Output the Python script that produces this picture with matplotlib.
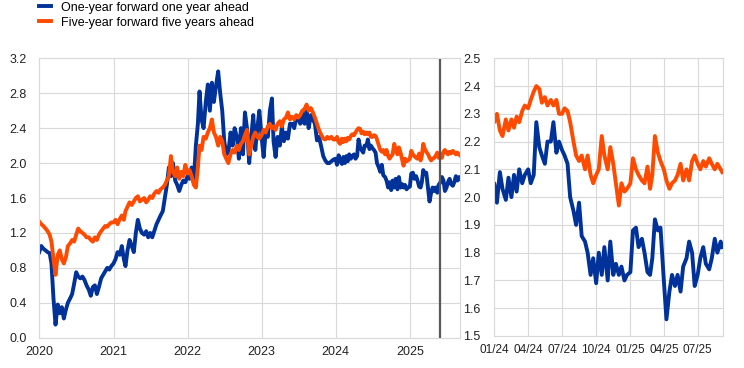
import numpy as np
import pandas as pd
import matplotlib
matplotlib.use("Agg")
import matplotlib.pyplot as plt
import matplotlib.dates as mdates

plt.rcParams['font.family'] = ['Liberation Sans', 'DejaVu Sans']
plt.rcParams['font.size'] = 9

BLUE = '#003299'
ORANGE = '#ff4b00'
GRID = '#d9d9d9'

# 2020-2023: three readings per month (days 1, 11, 21)
blue_early = [
    0.98, 1.05, 1.02,  1.00, 0.98, 0.97,  0.85, 0.45, 0.15,  0.38, 0.28, 0.35,
    0.22, 0.32, 0.40,  0.45, 0.50, 0.62,  0.75, 0.70, 0.68,  0.70, 0.66, 0.60,
    0.55, 0.48, 0.58,  0.60, 0.50, 0.58,  0.68, 0.72, 0.76,  0.80, 0.78, 0.82,
    0.85, 0.90, 0.98,  0.95, 1.05, 0.90,  0.82, 1.00, 1.12,  1.05, 0.98, 1.20,
    1.35, 1.25, 1.20,  1.18, 1.22, 1.15,  1.20, 1.15, 1.22,  1.30, 1.35, 1.40,
    1.45, 1.60, 1.75,  1.95, 1.85, 2.00,  1.80, 1.75, 1.68,  1.75, 1.80, 1.78,
    1.85, 1.82, 1.95,  1.80, 2.20, 2.45,  2.82, 2.50, 2.40,  2.70, 2.90, 2.60,
    2.92, 2.70, 2.88,  3.05, 2.80, 2.60,  2.25, 2.10, 2.12,  2.35, 2.20, 2.40,
    2.30, 2.05, 2.40,  2.10, 2.58, 2.40,  2.00, 2.30, 2.55,  2.15, 2.40, 2.60,
    2.30, 2.07, 2.35,  2.30, 2.60, 2.74,  2.25, 2.07, 2.30,  2.20, 2.42, 2.25,
    2.35, 2.28, 2.45,  2.45, 2.40, 2.53,  2.50, 2.45, 2.57,  2.45, 2.60, 2.40,
    2.55, 2.50, 2.45,  2.26, 2.30, 2.20,  2.08, 2.03, 2.00,  2.00, 2.02, 2.04,
]
orange_early = [
    1.33, 1.30, 1.28,  1.25, 1.22, 1.18,  1.10, 0.90, 0.72,  0.95, 1.00, 0.90,
    0.85, 0.92, 1.05,  1.08, 1.12, 1.10,  1.18, 1.25, 1.22,  1.20, 1.18, 1.15,
    1.15, 1.12, 1.10,  1.15, 1.12, 1.18,  1.22, 1.25, 1.28,  1.27, 1.30, 1.32,
    1.32, 1.35, 1.30,  1.36, 1.40, 1.35,  1.45, 1.50, 1.55,  1.52, 1.56, 1.60,
    1.62, 1.56, 1.58,  1.60, 1.55, 1.58,  1.62, 1.60, 1.65,  1.68, 1.66, 1.70,
    1.72, 1.75, 1.80,  1.85, 2.08, 1.90,  1.85, 1.95, 1.82,  1.90, 1.85, 1.98,
    1.88, 1.92, 1.85,  1.75, 1.72, 1.95,  2.20, 2.15, 2.30,  2.28, 2.35, 2.40,
    2.50, 2.35, 2.30,  2.20, 2.30, 2.25,  2.10, 2.05, 2.00,  2.10, 2.15, 2.12,
    2.20, 2.15, 2.22,  2.25, 2.32, 2.38,  2.10, 2.20, 2.30,  2.35, 2.30, 2.28,
    2.32, 2.38, 2.35,  2.42, 2.45, 2.40,  2.42, 2.38, 2.45,  2.48, 2.42, 2.50,
    2.52, 2.58, 2.50,  2.53, 2.50, 2.55,  2.52, 2.55, 2.60,  2.62, 2.67, 2.60,
    2.63, 2.58, 2.52,  2.45, 2.38, 2.33,  2.28, 2.27, 2.30,  2.28, 2.30, 2.27,
]

# 2024-2025: four readings per month (days 1, 8, 16, 23), then early Sep 2025
blue_late = [
    2.05, 1.98, 2.09, 2.03,  1.99, 2.07, 2.00, 2.08,  2.02, 2.10, 2.05, 2.08,
    2.10, 2.05, 2.08, 2.27,  2.18, 2.15, 2.12, 2.20,  2.20, 2.27, 2.16, 2.20,
    2.17, 2.15, 2.12, 2.00,  1.95, 1.90, 1.98, 1.86,  1.84, 1.80, 1.72, 1.78,
    1.69, 1.80, 1.72, 1.82,  1.70, 1.84, 1.72, 1.76,  1.72, 1.75, 1.70, 1.72,
    1.73, 1.88, 1.89, 1.82,  1.85, 1.80, 1.73, 1.72,  1.78, 1.92, 1.88, 1.89,
    1.70, 1.56, 1.66, 1.72,  1.68, 1.72, 1.66, 1.75,  1.78, 1.84, 1.80, 1.68,
    1.72, 1.78, 1.82, 1.76,  1.74, 1.78, 1.85, 1.80,  1.84, 1.82,
]
orange_late = [
    2.27, 2.30, 2.24, 2.22,  2.28, 2.24, 2.28, 2.25,  2.29, 2.27, 2.31, 2.33,
    2.32, 2.35, 2.38, 2.40,  2.39, 2.34, 2.36, 2.33,  2.35, 2.33, 2.35, 2.30,
    2.30, 2.32, 2.31, 2.27,  2.20, 2.15, 2.13, 2.15,  2.10, 2.15, 2.08, 2.05,
    2.08, 2.10, 2.22, 2.15,  2.10, 2.18, 2.12, 2.05,  1.97, 2.05, 2.02, 2.03,
    2.05, 2.14, 2.10, 2.08,  2.06, 2.05, 2.11, 2.03,  2.08, 2.22, 2.16, 2.13,
    2.10, 2.06, 2.03, 2.05,  2.06, 2.08, 2.12, 2.06,  2.10, 2.06, 2.13, 2.15,
    2.12, 2.10, 2.13, 2.11,  2.14, 2.12, 2.10, 2.12,  2.10, 2.09,
]

early_months = pd.date_range('2020-01-01', '2023-12-01', freq='MS')
early_dates = [m + pd.Timedelta(days=d) for m in early_months for d in (0, 10, 20)]
late_months = pd.date_range('2024-01-01', '2025-08-01', freq='MS')
late_dates = [m + pd.Timedelta(days=d) for m in late_months for d in (0, 7, 15, 22)]
late_dates += [pd.Timestamp('2025-09-01'), pd.Timestamp('2025-09-05')]

dates = pd.DatetimeIndex(early_dates + late_dates)
blue = np.array(blue_early + blue_late)
orange = np.array(orange_early + orange_late)

labels = ['One-year forward one year ahead', 'Five-year forward five years ahead']
cutoff = pd.Timestamp('2025-06-01')

fig = plt.figure(figsize=(7.44, 3.68), dpi=100)
ax1 = fig.add_axes([0.0528, 0.0823, 0.5654, 0.7593])
ax2 = fig.add_axes([0.6644, 0.087, 0.3078, 0.7546])

for ax in (ax1, ax2):
    l1, = ax.plot(dates, blue, color=BLUE, lw=2.8, solid_joinstyle='round')
    l2, = ax.plot(dates, orange, color=ORANGE, lw=2.8, solid_joinstyle='round')
    ax.grid(True, color=GRID, lw=0.8)
    ax.set_axisbelow(True)
    for s in ax.spines.values():
        s.set_color(GRID)
        s.set_linewidth(0.8)
    ax.tick_params(length=0, colors='#222222')

ax1.set_xlim(pd.Timestamp('2020-01-01'), pd.Timestamp('2025-09-05'))
ax1.set_ylim(0, 3.2)
ax1.set_yticks(np.arange(0, 3.21, 0.4))
ax1.yaxis.set_major_formatter(plt.FuncFormatter(lambda v, p: f'{v:.1f}'))
ax1.xaxis.set_major_locator(mdates.YearLocator())
ax1.xaxis.set_major_formatter(mdates.DateFormatter('%Y'))
ax1.tick_params(axis='y', pad=9)
ax1.tick_params(axis='x', pad=6)
ax1.axvline(cutoff, color='#595959', lw=1.6)

ax2.set_xlim(pd.Timestamp('2024-01-01'), pd.Timestamp('2025-09-08'))
ax2.set_ylim(1.5, 2.5)
ax2.set_yticks(np.arange(1.5, 2.51, 0.1))
ax2.yaxis.set_major_formatter(plt.FuncFormatter(lambda v, p: f'{v:.1f}'))
ax2.xaxis.set_major_locator(mdates.MonthLocator(bymonth=[1, 4, 7, 10]))
ax2.xaxis.set_major_formatter(mdates.DateFormatter('%m/%y'))
ax2.tick_params(axis='y', pad=10)
ax2.tick_params(axis='x', pad=6, labelsize=8.5)

fig.legend([l1, l2], labels, loc='upper left', bbox_to_anchor=(0.052, 0.995),
           frameon=False, handlelength=1.0, handletextpad=0.75,
           labelspacing=0.22, borderpad=0, borderaxespad=0)

fig.savefig('out.png', dpi=100)
